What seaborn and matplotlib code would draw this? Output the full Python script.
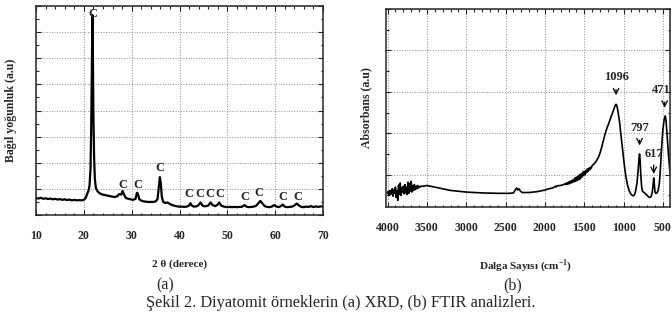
import matplotlib
matplotlib.use("Agg")
import matplotlib.pyplot as plt
import seaborn as sns
from matplotlib.ticker import MultipleLocator, AutoMinorLocator

# XRD pattern
xrd_2theta = [10.0, 10.5, 11.0, 11.5, 12.0, 12.5, 13.0, 13.5, 14.0, 14.5, 15.0, 15.5, 16.0, 16.5,
              17.0, 17.5, 18.0, 18.5, 19.0, 19.5, 20.0, 20.4, 20.7, 21.0, 21.2, 21.4, 21.55, 21.7,
              21.8, 21.9, 22.0, 22.15, 22.3, 22.5, 22.8, 23.2, 23.6, 24.0, 24.5, 25.0, 25.5, 26.0,
              26.5, 27.0, 27.4, 27.8, 28.1, 28.4, 28.8, 29.3, 29.8, 30.3, 30.8, 31.1, 31.3, 31.6,
              32.0, 32.5, 33.0, 33.5, 34.0, 34.5, 35.0, 35.4, 35.7, 35.9, 36.1, 36.3, 36.6, 37.0,
              37.5, 38.0, 38.5, 39.0, 39.5, 40.0, 40.5, 41.0, 41.5, 42.0, 42.3, 42.6, 43.0, 43.5,
              44.0, 44.4, 44.8, 45.3, 46.0, 46.5, 46.9, 47.5, 48.0, 48.3, 48.7, 49.3, 50.0, 50.5,
              51.0, 51.5, 52.0, 52.5, 53.0, 53.6, 54.0, 54.5, 55.0, 55.5, 56.0, 56.5, 56.9, 57.3,
              57.8, 58.3, 58.8, 59.3, 59.8, 60.2, 60.7, 61.2, 61.6, 62.0, 62.5, 63.0, 63.5, 64.0,
              64.5, 65.0, 65.5, 66.0, 66.5, 67.0, 67.5, 68.0, 68.5, 69.0, 69.5, 70.0]
xrd_intensity = [0.65, 0.63, 0.66, 0.62, 0.64, 0.61, 0.63, 0.60, 0.62, 0.59, 0.61, 0.58, 0.60, 0.57,
                 0.59, 0.56, 0.58, 0.56, 0.57, 0.56, 0.58, 0.66, 0.80, 0.95, 1.15, 1.80, 3.50, 6.20,
                 7.65, 6.00, 3.80, 2.20, 1.40, 1.05, 0.92, 0.85, 0.80, 0.78, 0.76, 0.74, 0.72, 0.70,
                 0.69, 0.72, 0.80, 0.78, 0.92, 0.78, 0.65, 0.62, 0.60, 0.58, 0.62, 0.85, 0.82, 0.60,
                 0.55, 0.52, 0.51, 0.50, 0.50, 0.50, 0.52, 0.60, 1.10, 1.45, 1.20, 0.70, 0.50, 0.46,
                 0.48, 0.42, 0.38, 0.35, 0.33, 0.32, 0.32, 0.31, 0.32, 0.36, 0.45, 0.36, 0.32, 0.33,
                 0.38, 0.48, 0.36, 0.33, 0.36, 0.48, 0.38, 0.34, 0.40, 0.48, 0.36, 0.32, 0.30, 0.31,
                 0.30, 0.31, 0.30, 0.31, 0.31, 0.38, 0.32, 0.30, 0.31, 0.32, 0.35, 0.45, 0.54, 0.45,
                 0.34, 0.31, 0.30, 0.32, 0.38, 0.33, 0.30, 0.34, 0.40, 0.32, 0.30, 0.31, 0.32, 0.36,
                 0.44, 0.36, 0.31, 0.30, 0.32, 0.31, 0.34, 0.30, 0.33, 0.31, 0.33, 0.32]

# "C" markers above the cristobalite peaks
c_2theta = [21.8, 28.2, 31.3, 35.9, 42.0, 44.3, 46.4, 48.5, 53.7, 56.6, 61.7, 64.8]
c_height = [7.70, 1.15, 1.15, 1.78, 0.82, 0.82, 0.82, 0.82, 0.70, 0.85, 0.70, 0.70]

# FTIR spectrum
ftir_wavenumber = [4000, 3990, 3980, 3970, 3960, 3950, 3940, 3930, 3920, 3910, 3900, 3890, 3880,
                   3870, 3860, 3850, 3840, 3830, 3820, 3810, 3800, 3790, 3780, 3770, 3760, 3750,
                   3740, 3730, 3720, 3710, 3700, 3690, 3680, 3670, 3660, 3650, 3640, 3630, 3620,
                   3610, 3600, 3590, 3580, 3550, 3500, 3450, 3400, 3300, 3200, 3100, 3000, 2900,
                   2800, 2700, 2600, 2500, 2450, 2400, 2380, 2360, 2345, 2330, 2310, 2290, 2200,
                   2100, 2000, 1950, 1900, 1870, 1860, 1850, 1800, 1750, 1740, 1730, 1720, 1710,
                   1700, 1690, 1680, 1670, 1660, 1650, 1640, 1630, 1620, 1610, 1600, 1590, 1580,
                   1570, 1560, 1550, 1540, 1530, 1520, 1510, 1500, 1490, 1480, 1470, 1460, 1450,
                   1440, 1430, 1420, 1410, 1400, 1380, 1350, 1320, 1300, 1280, 1260, 1240, 1220,
                   1200, 1180, 1160, 1140, 1120, 1105, 1096, 1085, 1070, 1050, 1030, 1010, 990,
                   970, 950, 930, 910, 890, 875, 860, 845, 830, 815, 805, 797, 790, 780, 770, 760,
                   740, 720, 700, 680, 665, 650, 635, 625, 617, 610, 600, 590, 575, 560, 545, 530,
                   515, 500, 485, 471, 460, 445, 430, 415, 400]
ftir_absorbance = [0.55, 0.60, 0.50, 0.62, 0.52, 0.58, 0.66, 0.48, 0.64, 0.55, 0.70, 0.45, 0.62,
                   0.38, 0.75, 0.52, 0.80, 0.50, 0.68, 0.58, 0.72, 0.54, 0.76, 0.56, 0.70, 0.52,
                   0.82, 0.55, 0.78, 0.60, 0.84, 0.58, 0.74, 0.62, 0.76, 0.64, 0.72, 0.66, 0.74,
                   0.68, 0.72, 0.70, 0.72, 0.72, 0.74, 0.72, 0.70, 0.66, 0.62, 0.60, 0.58, 0.57,
                   0.56, 0.555, 0.55, 0.55, 0.55, 0.56, 0.62, 0.68, 0.63, 0.66, 0.60, 0.57, 0.57,
                   0.59, 0.63, 0.66, 0.68, 0.72, 0.70, 0.73, 0.74, 0.77, 0.79, 0.76, 0.80, 0.77,
                   0.82, 0.78, 0.84, 0.80, 0.86, 0.81, 0.88, 0.83, 0.92, 0.84, 0.94, 0.86, 0.96,
                   0.88, 1.00, 0.90, 1.02, 0.94, 1.06, 0.98, 1.08, 1.00, 1.10, 1.05, 1.14, 1.08,
                   1.16, 1.12, 1.18, 1.16, 1.22, 1.25, 1.32, 1.42, 1.52, 1.65, 1.80, 1.95, 2.08,
                   2.18, 2.28, 2.38, 2.50, 2.60, 2.68, 2.70, 2.66, 2.52, 2.25, 1.90, 1.55, 1.22,
                   0.95, 0.75, 0.62, 0.54, 0.50, 0.49, 0.52, 0.62, 0.80, 1.10, 1.38, 1.50, 1.35,
                   0.95, 0.70, 0.60, 0.57, 0.54, 0.50, 0.46, 0.45, 0.47, 0.58, 0.75, 0.92, 0.78,
                   0.58, 0.55, 0.56, 0.62, 0.80, 1.20, 1.70, 2.10, 2.32, 2.42, 2.30, 1.90, 1.50,
                   1.15, 0.95]

# annotated FTIR bands: label, text position, text height, arrow position, arrow start, arrow end
band_labels = ["1096", "797", "617", "471"]
band_text_x = [1096, 797, 617, 520]
band_text_y = [3.37, 2.13, 1.50, 3.05]
band_arrow_x = [1096, 797, 617, 478]
band_arrow_top = [3.12, 1.90, 1.30, 2.82]
band_arrow_tip = [2.85, 1.64, 0.95, 2.55]

sns.set_style("ticks")
plt.rcParams['font.family'] = ['Liberation Serif', 'DejaVu Serif']
plt.rcParams['mathtext.fontset'] = 'custom'
plt.rcParams['mathtext.rm'] = 'Liberation Serif'
plt.rcParams['mathtext.bf'] = 'Liberation Serif:bold'

fig = plt.figure(figsize=(6.72, 3.17), dpi=100)
ax_a = fig.add_axes([36 / 672, 102 / 317, 287 / 672, 209 / 317])
ax_b = fig.add_axes([386 / 672, 110 / 317, 284 / 672, 198 / 317])

grid_kw = dict(color='#8c8c8c', linestyle=':', linewidth=0.7)

# (a) XRD
sns.lineplot(x=xrd_2theta, y=xrd_intensity, ax=ax_a, color='black', linewidth=1.6)
for xc, yc in zip(c_2theta, c_height):
    ax_a.text(xc, yc, "C", ha='center', va='center', fontsize=9, fontweight='bold')
ax_a.set_xlim(10, 70)
ax_a.set_ylim(0, 8)
ax_a.xaxis.set_major_locator(MultipleLocator(10))
ax_a.xaxis.set_minor_locator(MultipleLocator(2))
ax_a.yaxis.set_major_locator(MultipleLocator(1))
ax_a.yaxis.set_minor_locator(MultipleLocator(0.5))
ax_a.set_yticklabels([])
ax_a.grid(True, which='major', **grid_kw)
ax_a.set_xlabel("2 θ (derece)", fontsize=8, fontweight='bold')
ax_a.xaxis.set_label_coords(0.5, -0.212)
ax_a.set_ylabel("Bağıl yoğunluk (a.u)", fontsize=8.5, fontweight='bold')
ax_a.yaxis.set_label_coords(-0.066, 0.5)

# (b) FTIR
sns.lineplot(x=ftir_wavenumber, y=ftir_absorbance, ax=ax_b, color='black', linewidth=1.2)
for lab, tx, ty, xw, a0, a1 in zip(band_labels, band_text_x, band_text_y,
                                   band_arrow_x, band_arrow_top, band_arrow_tip):
    ax_b.text(tx, ty, lab, ha='center', va='center', fontsize=9, fontweight='bold')
    ax_b.annotate("", xy=(xw, a1), xytext=(xw, a0),
                  arrowprops=dict(arrowstyle='->', color='black', lw=0.9))
ax_b.set_xlim(4020, 410)
ax_b.set_ylim(0.22, 5.0)
ax_b.xaxis.set_major_locator(MultipleLocator(500))
ax_b.xaxis.set_minor_locator(MultipleLocator(100))
ax_b.yaxis.set_major_locator(MultipleLocator(1))
ax_b.yaxis.set_minor_locator(AutoMinorLocator(2))
ax_b.set_yticklabels([])
ax_b.grid(True, which='major', **grid_kw)
ax_b.set_xlabel(r"Dalga Sayısı (cm$^{\mathbf{-1}}$)", fontsize=8, fontweight='bold')
ax_b.xaxis.set_label_coords(0.49, -0.255)
ax_b.set_ylabel("Absorbans (a.u)", fontsize=8.5, fontweight='bold')
ax_b.yaxis.set_label_coords(-0.05, 0.5)

for ax in (ax_a, ax_b):
    ax.tick_params(which='both', direction='in', top=True, right=True, width=0.8)
    ax.tick_params(which='major', length=3.5, pad=11, labelsize=8.5)
    ax.tick_params(which='minor', length=1.8)
    for lab in ax.get_xticklabels():
        lab.set_fontweight('bold')
    for sp in ax.spines.values():
        sp.set_linewidth(1.1)

fig.text(165 / 672, 1 - 285 / 317, "(a)", ha='center', va='center', fontsize=11.5)
fig.text(513 / 672, 1 - 285 / 317, "(b)", ha='center', va='center', fontsize=11.5)
fig.text(341 / 672, 1 - 303 / 317, "Şekil 2. Diyatomit örneklerin (a) XRD, (b) FTIR analizleri.",
         ha='center', va='center', fontsize=11.8)

fig.savefig("out.png", dpi=100)
